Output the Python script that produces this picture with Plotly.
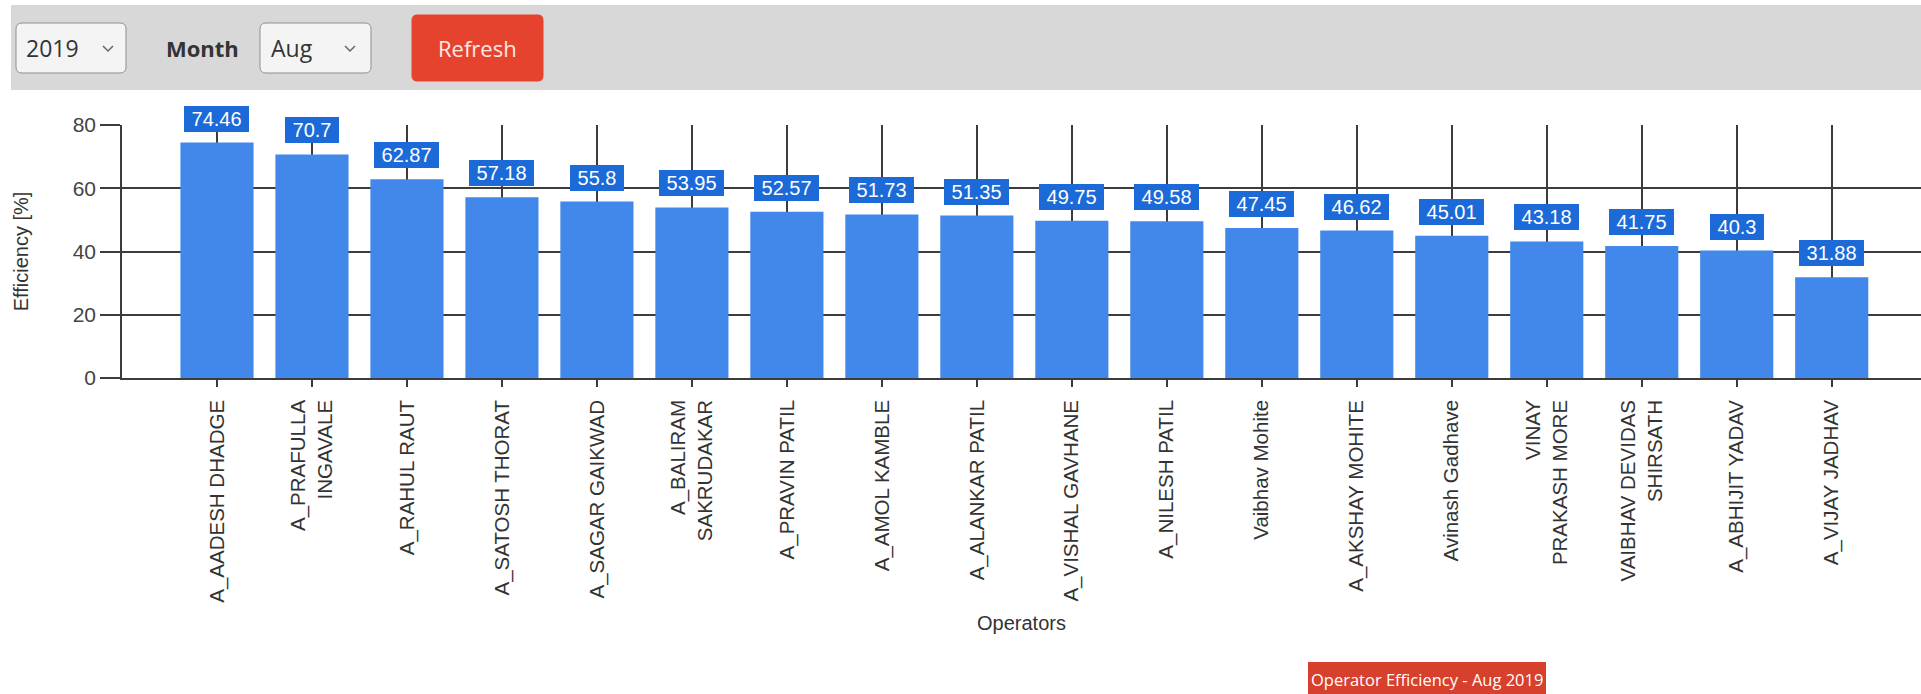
import plotly.graph_objects as go

# ---- data ----
operators = [
    "A_AADESH DHADGE", "A_PRAFULLA<br>INGAVALE", "A_RAHUL RAUT", "A_SATOSH THORAT",
    "A_SAGAR GAIKWAD", "A_BALIRAM<br>SAKRUDAKAR", "A_PRAVIN PATIL", "A_AMOL KAMBLE",
    "A_ALANKAR PATIL", "A_VISHAL GAVHANE", "A_NILESH PATIL", "Vaibhav Mohite",
    "A_AKSHAY MOHITE", "Avinash Gadhave", "VINAY<br>PRAKASH MORE",
    "VAIBHAV DEVIDAS<br>SHIRSATH", "A_ABHIJIT YADAV", "A_VIJAY JADHAV",
]
efficiency = [74.46, 70.7, 62.87, 57.18, 55.8, 53.95, 52.57, 51.73, 51.35,
              49.75, 49.58, 47.45, 46.62, 45.01, 43.18, 41.75, 40.3, 31.88]
y_ticks = [0, 20, 40, 60, 80]
year_label = "2019"
month_label = "Aug"
chart_title = "Operator Efficiency - Aug 2019"

# ---- layout geometry (pixels) ----
W, H = 1921, 694
ML, MR, MT, MB = 122, 0, 125, 316
PW = W - ML - MR
PH = H - MT - MB


def px(x):
    return (x - ML) / PW


def py(y):
    return (H - MB - y) / PH


def rrect(x0, y0, x1, y1, r):
    X, Y = px, py
    return (f"M {X(x0+r)},{Y(y0)} L {X(x1-r)},{Y(y0)} Q {X(x1)},{Y(y0)} {X(x1)},{Y(y0+r)} "
            f"L {X(x1)},{Y(y1-r)} Q {X(x1)},{Y(y1)} {X(x1-r)},{Y(y1)} L {X(x0+r)},{Y(y1)} "
            f"Q {X(x0)},{Y(y1)} {X(x0)},{Y(y1-r)} L {X(x0)},{Y(y0+r)} Q {X(x0)},{Y(y0)} {X(x0+r)},{Y(y0)} Z")


def chevron(cx, cy):
    return f"M {px(cx-5)},{py(cy-2)} L {px(cx)},{py(cy+3)} L {px(cx+5)},{py(cy-2)}"


BAR = "#4188ea"
BOX = "#1b6ad8"
GRID = "#3c3c3c"

fig = go.Figure(go.Bar(
    x=operators, y=efficiency, marker=dict(color=BAR, line=dict(width=0)),
    hoverinfo="x+y",
))

annotations = []
for op, v in zip(operators, efficiency):
    annotations.append(dict(
        x=op, y=v, xref="x", yref="y", text="\u00a0" + str(v) + "\u00a0",
        showarrow=False, yanchor="bottom", yshift=11,
        bgcolor=BOX, bordercolor=BOX, borderwidth=1, borderpad=1,
        font=dict(color="white", size=20, family="Arial"),
    ))

shapes = [
    dict(type="rect", xref="paper", yref="paper", x0=px(11), x1=px(W), y0=py(5), y1=py(90),
         fillcolor="#d8d8d8", line=dict(width=0), layer="below"),
    dict(type="path", xref="paper", yref="paper", path=rrect(16, 23, 126, 73, 6),
         fillcolor="#f4f4f4", line=dict(color="#8f8f8f", width=1)),
    dict(type="path", xref="paper", yref="paper", path=chevron(108, 48),
         line=dict(color="#666666", width=1.5)),
    dict(type="path", xref="paper", yref="paper", path=rrect(260, 23, 371, 73, 6),
         fillcolor="#f4f4f4", line=dict(color="#8f8f8f", width=1)),
    dict(type="path", xref="paper", yref="paper", path=chevron(350, 48),
         line=dict(color="#666666", width=1.5)),
    dict(type="path", xref="paper", yref="paper", path=rrect(412, 15, 543, 81, 5),
         fillcolor="#e6432e", line=dict(color="#e6432e", width=1)),
    dict(type="rect", xref="paper", yref="paper", x0=px(1308), x1=px(1546), y0=py(662), y1=py(700),
         fillcolor="#d6402c", line=dict(width=0)),
]

annotations += [
    dict(xref="paper", yref="paper", x=px(24), y=py(48), xanchor="left", yanchor="middle",
         text=year_label, showarrow=False, font=dict(size=23, color="#333333", family="Open Sans")),
    dict(xref="paper", yref="paper", x=px(164), y=py(48), xanchor="left", yanchor="middle",
         text="<b>Month</b>", showarrow=False, font=dict(size=22, color="#333333", family="Open Sans")),
    dict(xref="paper", yref="paper", x=px(269), y=py(48), xanchor="left", yanchor="middle",
         text=month_label, showarrow=False, font=dict(size=23, color="#333333", family="Open Sans")),
    dict(xref="paper", yref="paper", x=px(477), y=py(48), xanchor="center", yanchor="middle",
         text="Refresh", showarrow=False, font=dict(size=22, color="#fde8e4", family="Open Sans")),
    dict(xref="paper", yref="paper", x=px(1427), y=py(679), xanchor="center", yanchor="middle",
         text=chart_title, showarrow=False, font=dict(size=16.5, color="#ffffff", family="Open Sans")),
]

fig.update_layout(
    width=W, height=H,
    margin=dict(l=ML, r=MR, t=MT, b=MB, pad=0),
    paper_bgcolor="white", plot_bgcolor="white",
    bargap=0.23, showlegend=False,
    font=dict(family="Arial, Liberation Sans", color="#333333"),
    shapes=shapes, annotations=annotations,
    xaxis=dict(
        type="category", range=[-1, 17.94], automargin=False,
        tickangle=-90, tickfont=dict(size=20.5, color="#333333"), ticklabelstandoff=5,
        ticks="outside", ticklen=7, tickcolor=GRID, tickwidth=1.5,
        showline=True, linecolor=GRID, linewidth=1.5,
        showgrid=True, gridcolor=GRID, gridwidth=1.5,
        title=dict(text="Operators", font=dict(size=20, color="#333333"), standoff=14),
    ),
    yaxis=dict(
        range=[0, 80], tickvals=y_ticks, automargin=False,
        tickfont=dict(size=21, color="#444444"),
        ticks="outside", ticklen=20, tickcolor=GRID, tickwidth=1.5,
        showline=True, linecolor=GRID, linewidth=1.5,
        showgrid=True, gridcolor=GRID, gridwidth=1.5, zeroline=False,
        title=dict(text="Efficiency [%]", font=dict(size=20, color="#333333"), standoff=39),
    ),
)

fig.write_html("out.html", config={"displayModeBar": False},
               post_script="document.body.style.margin='0';document.body.style.overflow='hidden';")
